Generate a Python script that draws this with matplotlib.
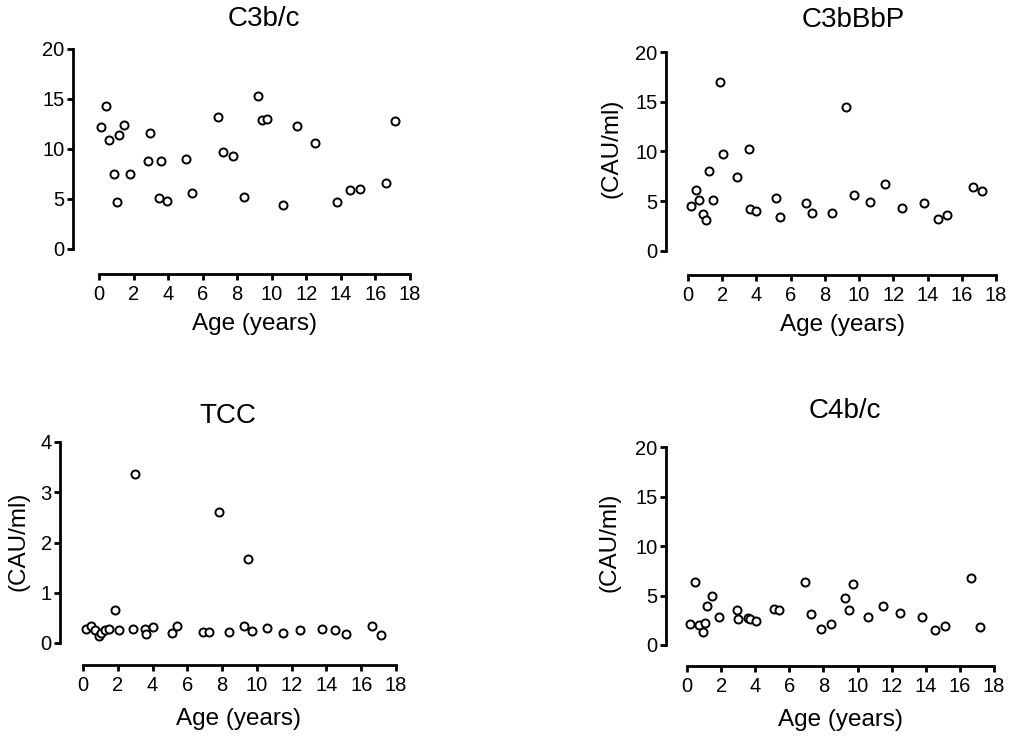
import matplotlib
matplotlib.use("Agg")
import matplotlib.pyplot as plt

plt.rcParams['font.family'] = ['Liberation Sans', 'DejaVu Sans']

# ---------------- data ----------------
c3bc_age = [0.14, 0.41, 0.60, 0.89, 1.04, 1.16, 1.47, 1.82, 2.84, 2.97, 3.48, 3.57,
            3.96, 5.06, 5.39, 6.89, 7.18, 7.78, 8.42, 9.23, 9.42, 9.73, 10.64, 11.45,
            12.48, 13.75, 14.52, 15.10, 16.60, 17.15]
c3bc_val = [12.2, 14.3, 10.9, 7.5, 4.7, 11.4, 12.4, 7.5, 8.8, 11.6, 5.1, 8.8,
            4.8, 9.0, 5.6, 13.2, 9.7, 9.3, 5.2, 15.3, 12.9, 13.0, 4.4, 12.3,
            10.6, 4.7, 5.9, 6.0, 6.6, 12.8]

c3bbbp_age = [0.20, 0.45, 0.64, 0.90, 1.05, 1.21, 1.48, 1.85, 2.07, 2.89, 3.55, 3.61,
              4.00, 5.13, 5.38, 6.90, 7.27, 8.42, 9.24, 9.73, 10.65, 11.50, 12.50,
              13.80, 14.59, 15.15, 16.63, 17.18]
c3bbbp_val = [4.5, 6.1, 5.1, 3.7, 3.1, 8.0, 5.1, 17.0, 9.7, 7.4, 10.3, 4.2,
              4.0, 5.3, 3.4, 4.8, 3.8, 3.8, 14.5, 5.6, 4.9, 6.7, 4.3,
              4.8, 3.2, 3.6, 6.4, 6.0]

tcc_age = [0.19, 0.44, 0.67, 0.90, 1.06, 1.25, 1.50, 1.86, 2.07, 2.90, 3.00, 3.57,
           3.61, 4.00, 5.09, 5.42, 6.88, 7.26, 7.82, 8.41, 9.28, 9.47, 9.74, 10.58,
           11.50, 12.49, 13.73, 14.52, 15.12, 16.60, 17.13]
tcc_val = [0.27, 0.33, 0.25, 0.14, 0.20, 0.25, 0.27, 0.66, 0.25, 0.28, 3.36, 0.28,
           0.17, 0.32, 0.19, 0.33, 0.21, 0.21, 2.61, 0.21, 0.34, 1.68, 0.23, 0.29,
           0.19, 0.25, 0.27, 0.25, 0.17, 0.34, 0.15]

c4bc_age = [0.20, 0.47, 0.68, 0.92, 1.07, 1.15, 1.49, 1.88, 2.93, 2.99, 3.60, 3.69,
            4.03, 5.10, 5.41, 6.92, 7.25, 7.84, 8.44, 9.26, 9.48, 9.75, 10.63, 11.49,
            12.47, 13.78, 14.56, 15.13, 16.65, 17.18]
c4bc_val = [2.1, 6.4, 2.0, 1.3, 2.2, 3.9, 5.0, 2.8, 3.5, 2.6, 2.7, 2.6,
            2.4, 3.6, 3.5, 6.4, 3.1, 1.6, 2.1, 4.7, 3.5, 6.2, 2.8, 3.9,
            3.2, 2.8, 1.5, 1.9, 6.8, 1.8]

titles = ["C3b/c", "C3bBbP", "TCC", "C4b/c"]
xlabel = "Age (years)"
ylabel = "(CAU/ml)"
x_ticks = [0, 2, 4, 6, 8, 10, 12, 14, 16, 18]
y_ticks_big = [0, 5, 10, 15, 20]
y_ticks_tcc = [0, 1, 2, 3, 4]

# ---------------- layout (pixels) ----------------
W, H = 1009, 736
fig = plt.figure(figsize=(W / 100, H / 100), dpi=100)


def fx(px):
    return px / W


def fy(py):
    return 1 - py / H


panels = [
    dict(box=(99, 410, 49, 249), off=(26, 25), ages=c3bc_age, vals=c3bc_val,
         ylim=(0, 20), yt=y_ticks_big, title_pos=(264, 26.5), xl_pos=(254.5, 330),
         yl_pos=None),
    dict(box=(688, 996, 52, 251), off=(22, 24), ages=c3bbbp_age, vals=c3bbbp_val,
         ylim=(0, 20), yt=y_ticks_big, title_pos=(853, 27), xl_pos=(842, 331),
         yl_pos=(612, 148)),
    dict(box=(83, 396, 442, 643), off=(23, 22), ages=tcc_age, vals=tcc_val,
         ylim=(0, 4), yt=y_ticks_tcc, title_pos=(228, 423), xl_pos=(239, 725),
         yl_pos=(19, 541)),
    dict(box=(687, 994, 447, 645), off=(21, 21), ages=c4bc_age, vals=c4bc_val,
         ylim=(0, 20), yt=y_ticks_big, title_pos=(845, 418.5), xl_pos=(840.5, 726),
         yl_pos=(609.5, 542.5)),
]

for title, p in zip(titles, panels):
    l, r, t, b = p['box']
    ax = fig.add_axes([fx(l), fy(b), (r - l) / W, (b - t) / H])
    ax.plot(p['ages'], p['vals'], linestyle='none', marker='o', markersize=5.8,
            markerfacecolor='white', markeredgecolor='black', markeredgewidth=1.4,
            clip_on=False)
    ax.set_xlim(0, 18)
    ax.set_ylim(*p['ylim'])
    ax.set_xticks(x_ticks)
    ax.set_yticks(p['yt'])
    for s in ['top', 'right']:
        ax.spines[s].set_visible(False)
    ax.spines['left'].set_position(('outward', p['off'][0] * 0.72))
    ax.spines['bottom'].set_position(('outward', p['off'][1] * 0.72))
    for s in ['left', 'bottom']:
        ax.spines[s].set_linewidth(2.0)
        ax.spines[s].set_capstyle('projecting')
    ax.tick_params(axis='both', direction='out', length=4, width=2.0,
                   labelsize=14.5, color='black')
    ax.tick_params(axis='y', pad=2.0)
    ax.tick_params(axis='x', pad=4.0)
    ax.patch.set_visible(False)

    fig.text(fx(p['title_pos'][0]), fy(p['title_pos'][1]), title, fontsize=20,
             ha='center', va='baseline')
    fig.text(fx(p['xl_pos'][0]), fy(p['xl_pos'][1]), xlabel, fontsize=17.5,
             ha='center', va='baseline')
    if p['yl_pos'] is not None:
        fig.text(fx(p['yl_pos'][0]), fy(p['yl_pos'][1]), ylabel, fontsize=17.5,
                 ha='center', va='center', rotation=90)

fig.savefig("out.png", dpi=100)
